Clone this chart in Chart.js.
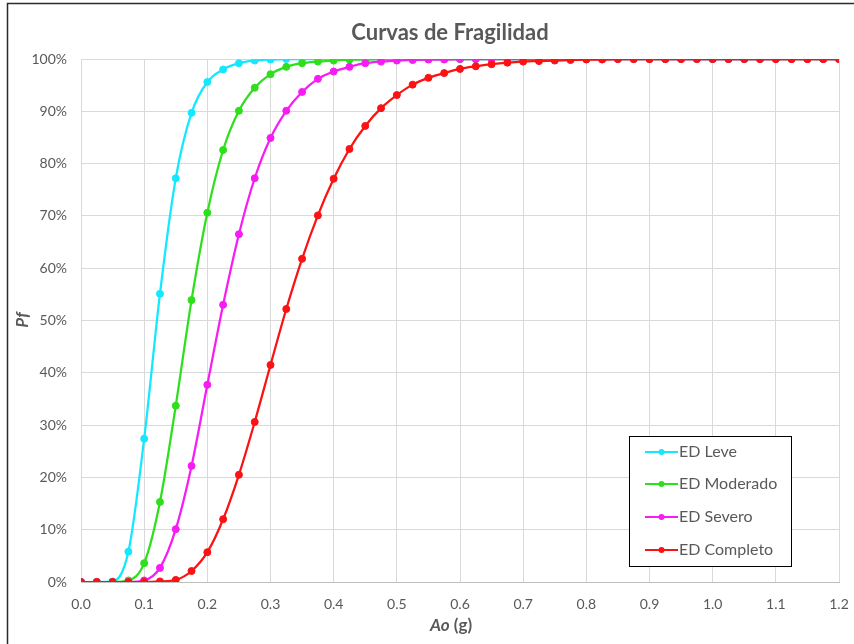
<!DOCTYPE html>
<html>
<head>
<meta charset="utf-8">
<title>Curvas de Fragilidad</title>
<script src="https://cdn.jsdelivr.net/npm/chart.js@4.4.1/dist/chart.umd.min.js"></script>
<style>
  html, body { margin: 0; padding: 0; background: #fff; }
  #wrap { width: 854px; height: 644px; position: relative; }
</style>
</head>
<body>
<div id="wrap"><canvas id="myChart" width="854" height="644"></canvas></div>
<script>
// Ao (g) values, one point every 0.025 g
var aoValues = [
  0.000, 0.025, 0.050, 0.075, 0.100, 0.125, 0.150, 0.175, 0.200, 0.225,
  0.250, 0.275, 0.300, 0.325, 0.350, 0.375, 0.400, 0.425, 0.450, 0.475,
  0.500, 0.525, 0.550, 0.575, 0.600, 0.625, 0.650, 0.675, 0.700, 0.725,
  0.750, 0.775, 0.800, 0.825, 0.850, 0.875, 0.900, 0.925, 0.950, 0.975,
  1.000, 1.025, 1.050, 1.075, 1.100, 1.125, 1.150, 1.175, 1.200
];

// Pf (%)
var pfLeve = [
  0, 0, 0.1, 5.8, 27.4, 55.1, 77.2, 89.7, 95.6, 98.0,
  99.2, 99.7, 99.9, 100, 100, 100, 100, 100, 100, 100,
  100, 100, 100, 100, 100, 100, 100, 100, 100, 100,
  100, 100, 100, 100, 100, 100, 100, 100, 100, 100,
  100, 100, 100, 100, 100, 100, 100, 100, 100
];
var pfModerado = [
  0, 0, 0, 0.3, 3.6, 15.3, 33.7, 53.9, 70.6, 82.6,
  90.1, 94.5, 97.1, 98.5, 99.2, 99.5, 99.7, 99.9, 99.9, 100,
  100, 100, 100, 100, 100, 100, 100, 100, 100, 100,
  100, 100, 100, 100, 100, 100, 100, 100, 100, 100,
  100, 100, 100, 100, 100, 100, 100, 100, 100
];
var pfSevero = [
  0, 0, 0, 0, 0.3, 2.7, 10.1, 22.2, 37.7, 53.0,
  66.5, 77.2, 84.9, 90.1, 93.7, 96.2, 97.6, 98.5, 99.2, 99.5,
  99.7, 99.8, 99.9, 99.9, 100, 100, 100, 100, 100, 100,
  100, 100, 100, 100, 100, 100, 100, 100, 100, 100,
  100, 100, 100, 100, 100, 100, 100, 100, 100
];
var pfCompleto = [
  0, 0, 0, 0, 0, 0.1, 0.4, 2.1, 5.7, 12.0,
  20.5, 30.6, 41.5, 52.2, 61.8, 70.1, 77.1, 82.8, 87.2, 90.6,
  93.1, 95.1, 96.4, 97.3, 98.1, 98.6, 99.0, 99.3, 99.5, 99.6,
  99.7, 99.8, 99.9, 99.9, 100, 100, 100, 100, 100, 100,
  100, 100, 100, 100, 100, 100, 100, 100, 100
];

var seriesNames = ['ED Leve', 'ED Moderado', 'ED Severo', 'ED Completo'];
var seriesColors = ['#14e8ff', '#2ee01c', '#f81cf4', '#fb1212'];
var seriesValues = [pfLeve, pfModerado, pfSevero, pfCompleto];

var xTickMin = 0, xTickMax = 1.2, xTickStep = 0.1;
var yTickMin = 0, yTickMax = 100, yTickStep = 10;

var FONT = 'Lato, "Open Sans", sans-serif';
var GREY = '#595959';

function points(values) {
  return aoValues.map(function (x, i) { return { x: x, y: values[i] }; });
}

var datasets = seriesNames.map(function (name, i) {
  return {
    label: name,
    data: points(seriesValues[i]),
    borderColor: seriesColors[i],
    backgroundColor: seriesColors[i],
    pointBackgroundColor: seriesColors[i],
    pointBorderColor: seriesColors[i],
    pointBorderWidth: 1,
    pointRadius: 3.5,
    borderWidth: 2.25,
    cubicInterpolationMode: 'monotone',
    order: seriesNames.length - 1 - i   // red ends up on top
  };
});

// frame, titles and the boxed legend, drawn the way Excel lays them out
var excelDecor = {
  id: 'excelDecor',
  beforeDraw: function (chart) {
    var ctx = chart.ctx;
    ctx.save();
    ctx.fillStyle = '#ffffff';
    ctx.fillRect(0, 0, chart.width, chart.height);
    ctx.restore();
  },
  afterDraw: function (chart) {
    var ctx = chart.ctx;
    ctx.save();

    // outer chart border (left and top edges are visible)
    ctx.strokeStyle = '#2b2b2b';
    ctx.lineWidth = 1.5;
    ctx.beginPath();
    ctx.moveTo(7.5, chart.height);
    ctx.lineTo(7.5, 3.5);
    ctx.lineTo(chart.width, 3.5);
    ctx.stroke();

    // title
    ctx.fillStyle = GREY;
    ctx.textAlign = 'center';
    ctx.textBaseline = 'middle';
    ctx.font = 'bold 22px ' + FONT;
    ctx.fillText('Curvas de Fragilidad', 450, 33);

    // y axis title
    ctx.save();
    ctx.translate(23, 320);
    ctx.rotate(-Math.PI / 2);
    ctx.font = 'italic bold 17px ' + FONT;
    ctx.fillText('Pf', 0, 0);
    ctx.restore();

    // x axis title: "Ao" italic, "(g)" upright
    var partA = 'Ao', partB = ' (g)';
    ctx.font = 'italic bold 17px ' + FONT;
    var wA = ctx.measureText(partA).width;
    ctx.font = 'bold 17px ' + FONT;
    var wB = ctx.measureText(partB).width;
    var startX = 451 - (wA + wB) / 2;
    ctx.textAlign = 'left';
    ctx.font = 'italic bold 17px ' + FONT;
    ctx.fillText(partA, startX, 626);
    ctx.font = 'bold 17px ' + FONT;
    ctx.fillText(partB, startX + wA, 626);

    // legend box
    var bx = 629.5, by = 436.5, bw = 162, bh = 130;
    ctx.fillStyle = '#ffffff';
    ctx.fillRect(bx, by, bw, bh);
    ctx.strokeStyle = '#000000';
    ctx.lineWidth = 1;
    ctx.strokeRect(bx, by, bw, bh);

    var rowY = [452, 484, 517, 550];
    ctx.font = '16px ' + FONT;
    ctx.textBaseline = 'middle';
    seriesNames.forEach(function (name, i) {
      var y = rowY[i];
      ctx.strokeStyle = seriesColors[i];
      ctx.lineWidth = 2;
      ctx.beginPath();
      ctx.moveTo(645, y);
      ctx.lineTo(678, y);
      ctx.stroke();
      ctx.fillStyle = seriesColors[i];
      ctx.beginPath();
      ctx.arc(661.5, y, 3, 0, Math.PI * 2);
      ctx.fill();
      ctx.fillStyle = GREY;
      ctx.fillText(name, 679, y);
    });

    ctx.restore();
  }
};

var ctx = document.getElementById('myChart').getContext('2d');
var myChart = new Chart(ctx, {
  type: 'line',
  data: { datasets: datasets },
  plugins: [excelDecor],
  options: {
    responsive: false,
    animation: false,
    events: [],
    layout: { padding: { left: 0, right: 15, top: 59, bottom: 0 } },
    plugins: {
      legend: { display: false },
      title: { display: false },
      tooltip: { enabled: false }
    },
    scales: {
      x: {
        type: 'linear',
        min: xTickMin,
        max: xTickMax,
        afterFit: function (scale) {
          scale.height = 62;
          scale.paddingLeft = 0;
          scale.paddingRight = 0;
        },
        ticks: {
          stepSize: xTickStep,
          color: GREY,
          font: { family: FONT, size: 14 },
          padding: 14,
          maxRotation: 0,
          autoSkip: false,
          callback: function (v) { return Number(v).toFixed(1); }
        },
        grid: { color: '#d9d9d9', drawTicks: false },
        border: { color: '#bfbfbf' }
      },
      y: {
        type: 'linear',
        min: yTickMin,
        max: yTickMax,
        afterFit: function (scale) {
          scale.width = 81;
          scale.paddingTop = 0;
          scale.paddingBottom = 0;
        },
        ticks: {
          stepSize: yTickStep,
          color: GREY,
          font: { family: FONT, size: 14 },
          padding: 14,
          callback: function (v) { return v + '%'; }
        },
        grid: { color: '#d9d9d9', drawTicks: false },
        border: { color: '#d9d9d9' }
      }
    }
  }
});
</script>
</body>
</html>
